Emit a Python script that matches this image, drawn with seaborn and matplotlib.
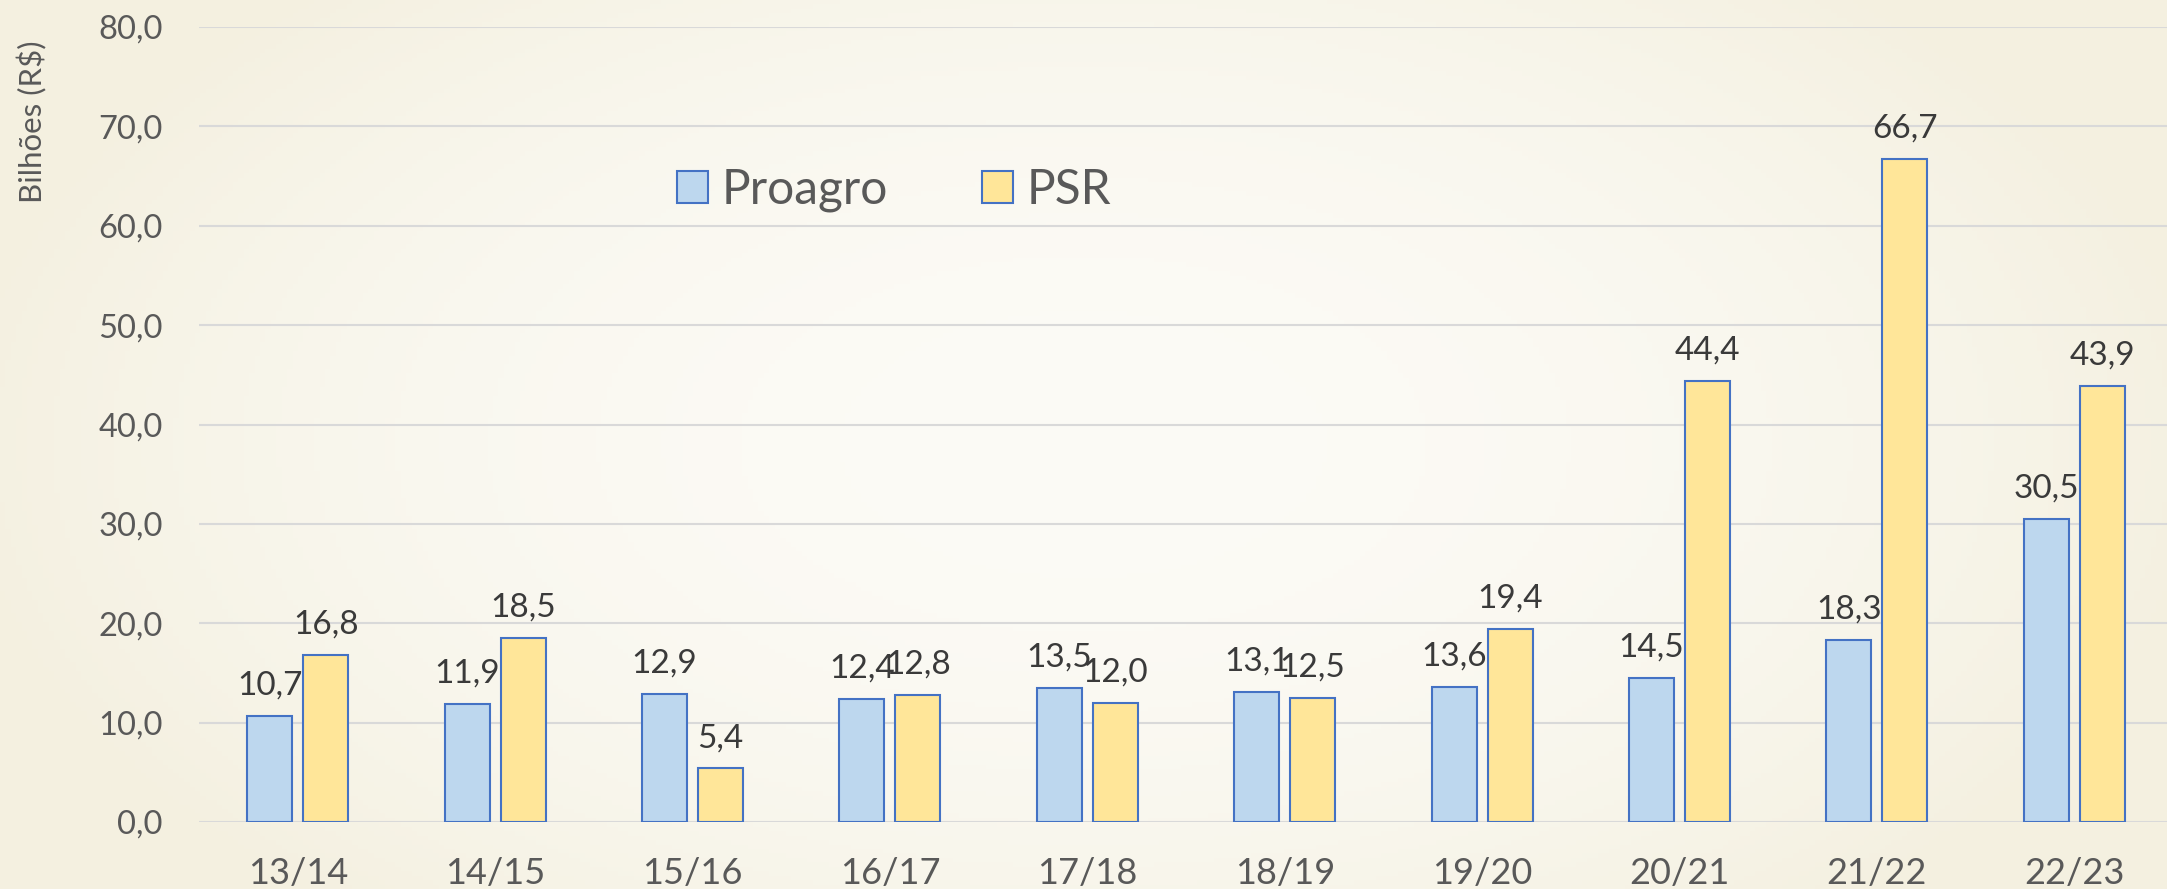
import matplotlib
matplotlib.use("Agg")
import matplotlib.pyplot as plt
from matplotlib.patches import Patch
import seaborn as sns
import numpy as np
import pandas as pd

# data
safras = ['13/14', '14/15', '15/16', '16/17', '17/18', '18/19', '19/20', '20/21', '21/22', '22/23']
proagro = [10.7, 11.9, 12.9, 12.4, 13.5, 13.1, 13.6, 14.5, 18.3, 30.5]
psr = [16.8, 18.5, 5.4, 12.8, 12.0, 12.5, 19.4, 44.4, 66.7, 43.9]
series = ['Proagro', 'PSR']
yticks = [0, 10, 20, 30, 40, 50, 60, 70, 80]

blue, yellow, edge = '#BDD7EE', '#FFE699', '#4472C4'
bg = '#FAF8EF'

df = pd.DataFrame({
    'safra': safras * 2,
    'valor': proagro + psr,
    'programa': ['Proagro'] * len(safras) + ['PSR'] * len(safras),
})

sns.set_style('white')
plt.rcParams['font.family'] = ['Lato', 'DejaVu Sans']

W, H = 2167, 889
fig = plt.figure(figsize=(W / 100, H / 100), dpi=100, facecolor=bg)

# soft cream backdrop, a bit more beige towards the edges
bgax = fig.add_axes([0, 0, 1, 1], zorder=-10)
gx = np.linspace(-1, 1, 400)
gy = np.linspace(-1, 1, 200)
r = np.clip(np.sqrt(gx[None, :] ** 2 * 0.9 + gy[:, None] ** 2 * 0.5), 0, 1)
c0 = np.array([252, 251, 246]) / 255
c1 = np.array([244, 240, 224]) / 255
img = c0[None, None, :] * (1 - r[..., None] ** 2) + c1[None, None, :] * r[..., None] ** 2
bgax.imshow(img, aspect='auto', extent=[0, 1, 0, 1])
bgax.axis('off')

ax = fig.add_axes([199 / W, 1 - 822 / H, (2173 - 199) / W, (822 - 27) / H])
ax.set_facecolor('none')

sns.barplot(ax=ax, data=df, x='safra', y='valor', hue='programa', hue_order=series,
            palette=[blue, yellow], width=0.567, gap=0.196, edgecolor=edge, linewidth=1.5,
            saturation=1, legend=False, zorder=3)

for cont in ax.containers:
    ax.bar_label(cont, labels=[f'{v:.1f}'.replace('.', ',') for v in cont.datavalues],
                 padding=11, fontsize=24, color='#3A3A3A')

ax.set_ylim(0, 80)
ax.set_xlim(-0.5, 9.5)
ax.set_yticks(yticks)
ax.set_yticklabels([f'{t:.1f}'.replace('.', ',') for t in yticks])
ax.yaxis.grid(True, color='#D9D9D9', linewidth=1.5, zorder=0)
ax.set_axisbelow(True)
ax.tick_params(axis='y', length=0, pad=26, labelsize=23.5, labelcolor='#595959')
ax.tick_params(axis='x', length=0, pad=25, labelsize=26, labelcolor='#595959')
ax.set_xlabel('')
ax.set_ylabel('')
sns.despine(ax=ax, left=True, top=True, right=True, bottom=True)

fig.text(32 / W, 1 - 122 / H, 'Bilhões (R$)', rotation=90, ha='center', va='center',
         fontsize=22.5, color='#595959')

handles = [Patch(facecolor=blue, edgecolor=edge, linewidth=1.5),
           Patch(facecolor=yellow, edgecolor=edge, linewidth=1.5)]
fig.legend(handles, series, loc='center left', bbox_to_anchor=(677 / W, 1 - 190 / H),
           ncol=2, frameon=False, fontsize=34.5, handlelength=0.64, handleheight=0.64,
           handletextpad=0.3, columnspacing=1.95, borderpad=0, borderaxespad=0,
           labelcolor='#595959')

fig.savefig('out.png', dpi=100, facecolor=bg)
